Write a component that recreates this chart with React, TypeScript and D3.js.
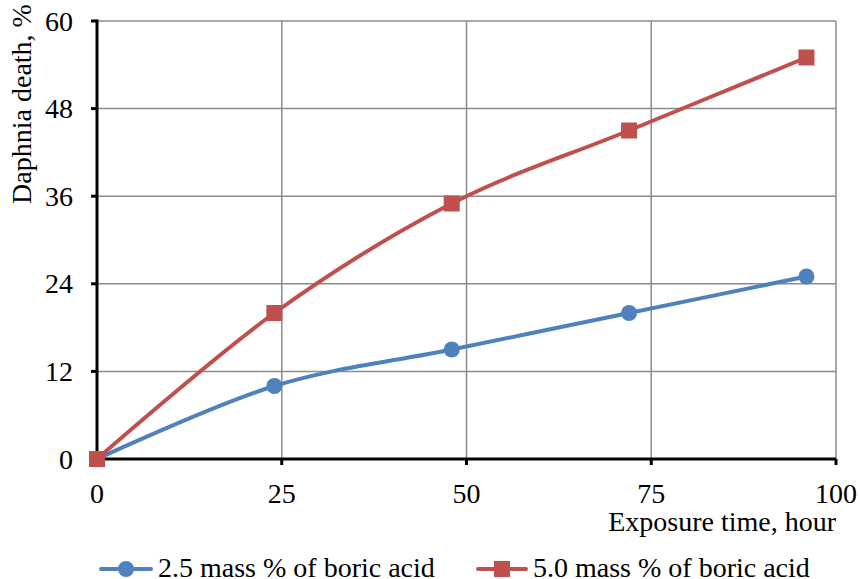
import React from "react";
import * as d3 from "d3";

const hours = [0, 24, 48, 72, 96];
const series25 = [0, 10, 15, 20, 25];
const series50 = [0, 20, 35, 45, 55];
const xTicks = [0, 25, 50, 75, 100];
const yTicks = [0, 12, 24, 36, 48, 60];
const seriesNames = ["2.5 mass % of boric acid", "5.0 mass % of boric acid"];
const colors = ["#4F81BD", "#C0504D"];

export default function App() {
  const W = 860, H = 579;
  const x = d3.scaleLinear().domain([0, 100]).range([97, 836]);
  const y = d3.scaleLinear().domain([0, 60]).range([459, 21]);
  const line = d3
    .line<number>()
    .x((_, i) => x(hours[i]))
    .y((d) => y(d))
    .curve(d3.curveCardinal.tension(0));
  const font = "'Liberation Serif', 'Times New Roman', serif";
  const fs = 28;
  return (
    <svg width={W} height={H} style={{ position: "absolute", left: 0, top: 0 }} fontFamily={font}>
      <rect width={W} height={H} fill="#fff" />
      {yTicks.slice(1).map((t) => (
        <line key={"gy" + t} x1={x(0)} x2={x(100)} y1={y(t)} y2={y(t)} stroke="#8c8c8c" strokeWidth={1.5} />
      ))}
      {xTicks.slice(1).map((t) => (
        <line key={"gx" + t} x1={x(t)} x2={x(t)} y1={y(0)} y2={y(60)} stroke="#8c8c8c" strokeWidth={1.5} />
      ))}
      <line x1={x(0)} x2={x(0)} y1={y(0) + 1.5} y2={y(60) - 1.5} stroke="#000" strokeWidth={3} />
      <line x1={x(0) - 1.5} x2={x(100)} y1={y(0)} y2={y(0)} stroke="#000" strokeWidth={3} />
      {yTicks.map((t) => (
        <g key={"ty" + t}>
          <line x1={x(0) - 6} x2={x(0)} y1={y(t)} y2={y(t)} stroke="#000" strokeWidth={3} />
          <text x={73} y={y(t)} dy="0.34em" textAnchor="end" fontSize={fs}>{t}</text>
        </g>
      ))}
      {xTicks.map((t) => (
        <g key={"tx" + t}>
          <line x1={x(t)} x2={x(t)} y1={y(0)} y2={y(0) + 6} stroke="#000" strokeWidth={3} />
          <text x={x(t)} y={503} textAnchor="middle" fontSize={fs}>{t}</text>
        </g>
      ))}
      <text x={836} y={531} textAnchor="end" fontSize={fs}>Exposure time, hour</text>
      <text transform="translate(31,104) rotate(-90)" textAnchor="middle" fontSize={fs}>Daphnia death, %</text>
      <path d={line(series25) || ""} fill="none" stroke={colors[0]} strokeWidth={4} />
      <path d={line(series50) || ""} fill="none" stroke={colors[1]} strokeWidth={4} />
      {series25.map((v, i) => (
        <circle key={"c" + i} cx={x(hours[i])} cy={y(v)} r={8} fill={colors[0]} />
      ))}
      {series50.map((v, i) => (
        <rect key={"s" + i} x={x(hours[i]) - 8} y={y(v) - 8} width={16} height={16} fill={colors[1]} />
      ))}
      <g>
        <line x1={101} x2={151} y1={569} y2={569} stroke={colors[0]} strokeWidth={4} strokeLinecap="round" />
        <circle cx={126} cy={569} r={8} fill={colors[0]} />
        <text x={158} y={577} fontSize={fs}>{seriesNames[0]}</text>
        <line x1={478} x2={526} y1={569} y2={569} stroke={colors[1]} strokeWidth={4} strokeLinecap="round" />
        <rect x={494} y={561} width={16} height={16} fill={colors[1]} />
        <text x={533} y={577} fontSize={fs}>{seriesNames[1]}</text>
      </g>
    </svg>
  );
}
